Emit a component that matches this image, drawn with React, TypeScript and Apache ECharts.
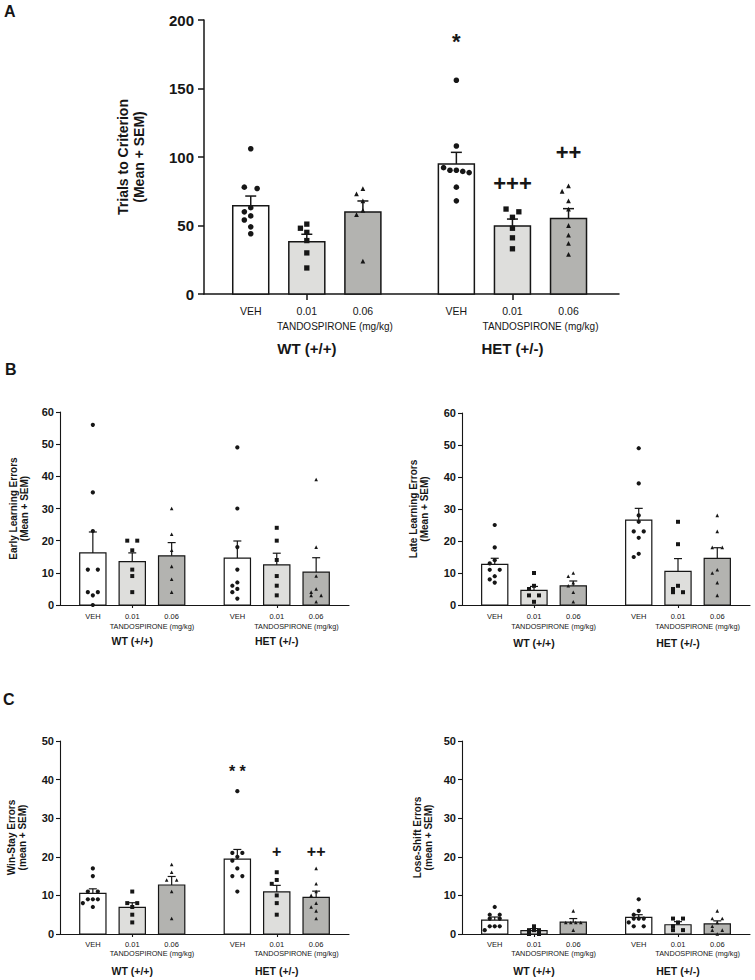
import React, { useEffect, useRef } from 'react';
import * as echarts from 'echarts';

// ---------------- DATA ----------------
const doseTicks = ['VEH', '0.01', '0.06', 'VEH', '0.01', '0.06'];
const doseTitle = 'TANDOSPIRONE (mg/kg)';
const genotypes = ['WT (+/+)', 'HET (+/-)'];

// Panel A: Trials to Criterion
const trialsMean = [64.5, 38.2, 59.9, 94.9, 49.6, 55.2];
const trialsSem = [7.0, 5.4, 8.0, 8.5, 5.1, 7.1];
const trialsPoints = [
  [106, 78, 77, 63, 60, 57, 54, 49, 44],
  [48, 51, 45, 39, 30, 19],
  [77, 73, 68, 61, 58, 24],
  [156, 108, 90.3, 92.2, 88.6, 90.3, 89.5, 78, 68],
  [60, 62, 56, 48, 41, 33],
  [79, 75, 68, 62, 50, 43, 37, 29],
];
const trialsMarks = ['', '', '', '*', '+++', '++'];
const trialsMarkY = [0, 0, 0, 184, 81, 103];

// Panel B left: Early Learning Errors
const earlyMean = [16.2, 13.5, 15.3, 14.6, 12.5, 10.2];
const earlySem = [6.5, 2.7, 4.1, 5.3, 3.6, 4.5];
const earlyPoints = [
  [56, 35, 23, 11, 11, 4, 4, 3, 0],
  [20, 20, 17, 11, 9, 4],
  [30, 22, 17, 12, 8, 4],
  [49, 30, 18, 11, 7, 6, 5, 4, 2],
  [24, 20, 14, 9, 6, 3],
  [39, 18, 9, 5, 4, 3, 3, 1],
];

// Panel B right: Late Learning Errors
const lateMean = [12.7, 4.6, 6.0, 26.5, 10.5, 14.6];
const lateSem = [1.9, 1.2, 1.5, 3.7, 4.0, 3.3];
const latePoints = [
  [25, 18, 14, 13, 11, 11, 9, 8, 7],
  [10, 6, 5, 3, 3, 1],
  [10, 9, 7, 6, 4, 1],
  [49, 38, 28, 26, 23, 23, 21, 16, 15],
  [26, 19, 6, 5, 4, 4],
  [28, 23, 18, 18, 11, 10, 7, 3],
];

// Panel C left: Win-Stay Errors
const winStayMean = [10.5, 6.9, 12.7, 19.4, 10.9, 9.5];
const winStaySem = [1.2, 1.2, 2.2, 2.5, 1.7, 1.6];
const winStayPoints = [
  [17, 15, 11, 11, 9, 9, 9, 8, 7],
  [11, 8, 8, 7, 5, 3],
  [18, 16, 14, 14, 11, 4],
  [37, 21, 21, 20, 19, 17, 15, 15, 11],
  [16, 14, 13, 10, 8, 5],
  [17, 13, 11, 10, 8, 7, 6, 4],
];
const winStayMarks = ['', '', '', '* *', '+', '++'];
const winStayMarkY = [0, 0, 0, 42, 21.5, 21.5];

// Panel C right: Lose-Shift Errors
const loseShiftMean = [3.6, 0.9, 3.1, 4.3, 2.4, 2.6];
const loseShiftSem = [0.8, 0.5, 0.9, 0.7, 0.8, 0.8];
const loseShiftPoints = [
  [7, 5, 5, 4, 4, 2, 2, 2, 1],
  [2, 1, 1, 1, 0, 0],
  [6, 3, 3, 3, 3, 1],
  [9, 6, 5, 4, 4, 4, 3, 2, 2],
  [4, 4, 3, 2, 1, 1],
  [6, 4, 4, 3, 2, 1, 1, 0],
];

// ---------------- LAYOUT / STYLE ----------------
const FONT = '"Liberation Sans", Arial, Helvetica, sans-serif';
const INK = '#161616';
const FILLS = ['#ffffff', '#dededc', '#b3b3b0'];
const SYMBOLS = ['circle', 'rect', 'triangle'];
const SYMBOL_SCALE = [1, 0.95, 0.85];
const SLOTS = [5, 11, 17, 27, 33, 39];
const TICK_SLOTS = [11, 33];
const DOSE_SLOTS = [14, 36];

type Panel = {
  name: string;
  mean: number[];
  sem: number[];
  points: number[][];
  marks?: string[];
  markY?: number[];
  grid: { left: number; top: number; width: number; height: number };
  xMax: number;
  yMax: number;
  yStep: number;
  big: boolean;
  margins: number[];
  nameGap: number;
};

const panels: Panel[] = [
  {
    name: 'Trials to Criterion\n(Mean + SEM)', mean: trialsMean, sem: trialsSem, points: trialsPoints,
    marks: trialsMarks, markY: trialsMarkY,
    grid: { left: 204, top: 20, width: 415, height: 274 }, xMax: 44.4, yMax: 200, yStep: 50, big: true,
    margins: [12, 27, 47], nameGap: 57,
  },
  {
    name: 'Early Learning Errors\n(Mean + SEM)', mean: earlyMean, sem: earlySem, points: earlyPoints,
    grid: { left: 60, top: 412, width: 289, height: 193 }, xMax: 44, yMax: 60, yStep: 10, big: false,
    margins: [8, 18, 31], nameGap: 30,
  },
  {
    name: 'Late Learning Errors\n(Mean + SEM)', mean: lateMean, sem: lateSem, points: latePoints,
    grid: { left: 462, top: 413, width: 288, height: 192 }, xMax: 44, yMax: 60, yStep: 10, big: false,
    margins: [8, 18, 33], nameGap: 32,
  },
  {
    name: 'Win-Stay Errors\n(mean + SEM)', mean: winStayMean, sem: winStaySem, points: winStayPoints,
    marks: winStayMarks, markY: winStayMarkY,
    grid: { left: 60, top: 741, width: 289, height: 193 }, xMax: 44, yMax: 50, yStep: 10, big: false,
    margins: [7, 16, 32], nameGap: 32,
  },
  {
    name: 'Lose-Shift Errors\n(mean + SEM)', mean: loseShiftMean, sem: loseShiftSem, points: loseShiftPoints,
    grid: { left: 462, top: 741, width: 288, height: 193 }, xMax: 44, yMax: 50, yStep: 10, big: false,
    margins: [7, 16, 32], nameGap: 28,
  },
];

// beeswarm-like horizontal spreading of points (in column units)
function swarm(values: number[], pxPerUnit: number, size: number): number[] {
  const order = values.map((_, i) => i).sort((a, b) => values[b] - values[a]);
  const offs = new Array(values.length).fill(0);
  const placed: { y: number; o: number }[] = [];
  let i = 0;
  while (i < order.length) {
    let j = i;
    while (j + 1 < order.length && (values[order[j]] - values[order[j + 1]]) * pxPerUnit < size * 0.5) j++;
    const n = j - i + 1;
    if (n > 1) {
      for (let k = 0; k < n; k++) {
        const o = n === 2 ? (k === 0 ? -1 : 1) : k - (n - 1) / 2;
        offs[order[i + k]] = o;
        placed.push({ y: values[order[i + k]], o });
      }
    } else {
      const y = values[order[i]];
      const cands = [0, -1, 1, -2, 2, -3, 3];
      let chosen = 0;
      for (const c of cands) {
        if (!placed.some((p) => Math.abs(p.o - c) < 0.75 && Math.abs(p.y - y) * pxPerUnit < size + 0.5)) {
          chosen = c;
          break;
        }
      }
      offs[order[i]] = chosen;
      placed.push({ y, o: chosen });
    }
    i = j + 1;
  }
  return offs;
}

function buildOption() {
  const grid: any[] = [];
  const xAxis: any[] = [];
  const yAxis: any[] = [];
  const series: any[] = [];

  panels.forEach((p, i) => {
    const big = p.big;
    const st = big
      ? { tick: 15, name: 14, nameLH: 16, xl: 10.5, dose: 10, geno: 15, lw: 1.5, axLw: 1.5, mk: 5.6, bw: 3.85, cap: 5.5, yTick: 6, xTick: 6, ann: 22, yMargin: 10 }
      : { tick: 11, name: 10, nameLH: 11, xl: 7.5, dose: 7.3, geno: 10.5, lw: 1.2, axLw: 1.1, mk: 4.2, bw: 4, cap: 4, yTick: 4, xTick: 3, ann: 16, yMargin: 6 };
    grid.push({ ...p.grid, containLabel: false });
    const xPx = p.grid.width / p.xMax;
    const yPx = p.grid.height / p.yMax;
    const colUnits = (st.mk + 0.8) / xPx;
    const xi = i * 3;

    const baseX = {
      type: 'value', gridIndex: i, min: 0, max: p.xMax, position: 'bottom',
      splitLine: { show: false },
    };
    xAxis.push({
      ...baseX,
      axisLine: { show: true, onZero: false, lineStyle: { color: INK, width: st.axLw } },
      axisTick: { show: true, customValues: TICK_SLOTS, length: st.xTick, lineStyle: { color: INK, width: st.axLw } },
      axisLabel: {
        show: true, customValues: SLOTS, margin: p.margins[0],
        formatter: (v: number) => doseTicks[SLOTS.indexOf(v)] ?? '',
        fontFamily: FONT, fontSize: st.xl, lineHeight: st.xl, color: INK,
      },
    });
    xAxis.push({
      ...baseX,
      axisLine: { show: false }, axisTick: { show: false },
      axisLabel: {
        show: true, customValues: DOSE_SLOTS, margin: p.margins[1],
        formatter: () => doseTitle,
        fontFamily: FONT, fontSize: st.dose, lineHeight: st.dose, color: INK,
      },
    });
    xAxis.push({
      ...baseX,
      axisLine: { show: false }, axisTick: { show: false },
      axisLabel: {
        show: true, customValues: TICK_SLOTS, margin: p.margins[2],
        formatter: (v: number) => genotypes[TICK_SLOTS.indexOf(v)] ?? '',
        fontFamily: FONT, fontSize: st.geno, lineHeight: st.geno, fontWeight: 'bold', color: INK,
      },
    });

    yAxis.push({
      type: 'value', gridIndex: i, min: 0, max: p.yMax, interval: p.yStep,
      name: p.name, nameLocation: 'middle', nameRotate: 90, nameGap: p.nameGap,
      nameTextStyle: { fontFamily: FONT, fontSize: st.name, lineHeight: st.nameLH, fontWeight: 'bold', color: INK },
      axisLine: { show: true, lineStyle: { color: INK, width: st.axLw } },
      axisTick: { show: true, length: st.yTick, lineStyle: { color: INK, width: st.axLw } },
      axisLabel: { fontFamily: FONT, fontSize: st.tick, fontWeight: 'bold', color: INK, margin: st.yMargin },
      splitLine: { show: false },
    });

    // bars + SEM
    series.push({
      type: 'custom', xAxisIndex: xi, yAxisIndex: i, z: 2,
      encode: { x: 0, y: 1 },
      data: SLOTS.map((x, g) => [x, p.mean[g], p.sem[g], g]),
      renderItem: (params: any, api: any) => {
        const x = api.value(0);
        const m = api.value(1);
        const s = api.value(2);
        const g = api.value(3);
        const p0 = api.coord([x - st.bw / 2, 0]);
        const p1 = api.coord([x + st.bw / 2, m]);
        const mid = api.coord([x, m]);
        const top = api.coord([x, m + s]);
        const lineStyle = { stroke: INK, lineWidth: st.lw, fill: null };
        return {
          type: 'group',
          children: [
            {
              type: 'rect',
              shape: { x: p0[0], y: p1[1], width: p1[0] - p0[0], height: p0[1] - p1[1] },
              style: { fill: FILLS[g % 3], stroke: INK, lineWidth: st.lw },
            },
            { type: 'line', shape: { x1: mid[0], y1: mid[1], x2: top[0], y2: top[1] }, style: lineStyle },
            { type: 'line', shape: { x1: top[0] - st.cap, y1: top[1], x2: top[0] + st.cap, y2: top[1] }, style: lineStyle },
          ],
        };
      },
    });

    // individual points
    const pts: any[] = [];
    p.points.forEach((vals, g) => {
      const offs = swarm(vals, yPx, st.mk);
      vals.forEach((v, k) => {
        pts.push({
          value: [SLOTS[g] + offs[k] * colUnits, v],
          symbol: SYMBOLS[g % 3],
          symbolSize: st.mk * SYMBOL_SCALE[g % 3],
        });
      });
    });
    series.push({
      type: 'scatter', xAxisIndex: xi, yAxisIndex: i, z: 3,
      itemStyle: { color: INK, opacity: 1 },
      data: pts, silent: true,
    });

    if (p.marks && p.markY) {
      const marks: any[] = [];
      p.marks.forEach((t, g) => {
        if (t) marks.push({ name: t, value: [SLOTS[g], p.markY![g]] });
      });
      series.push({
        type: 'scatter', xAxisIndex: xi, yAxisIndex: i, z: 4,
        symbolSize: 1, itemStyle: { color: '#ffffff', opacity: 0 },
        label: {
          show: true, position: 'inside', formatter: '{b}',
          fontFamily: FONT, fontSize: st.ann, fontWeight: 'bold', color: INK,
          textBorderWidth: 0, opacity: 1,
        },
        data: marks, silent: true,
      });
    }
  });

  const letter = (t: string, x: number, y: number) => ({
    type: 'text', left: x, top: y,
    style: { text: t, fontFamily: FONT, fontSize: 16, fontWeight: 'bold', fill: INK },
  });

  return {
    animation: false,
    backgroundColor: '#ffffff',
    grid, xAxis, yAxis, series,
    graphic: [letter('A', 4, 3), letter('B', 5, 361), letter('C', 3, 691)],
  };
}

export default function App() {
  const ref = useRef<HTMLDivElement>(null);
  useEffect(() => {
    if (!ref.current) return;
    const chart = echarts.init(ref.current, undefined, { renderer: 'svg' });
    chart.setOption(buildOption() as any);
    return () => chart.dispose();
  }, []);
  return (
    <div
      ref={ref}
      style={{ position: 'fixed', left: 0, top: 0, width: 755, height: 980, background: '#fff' }}
    />
  );
}
